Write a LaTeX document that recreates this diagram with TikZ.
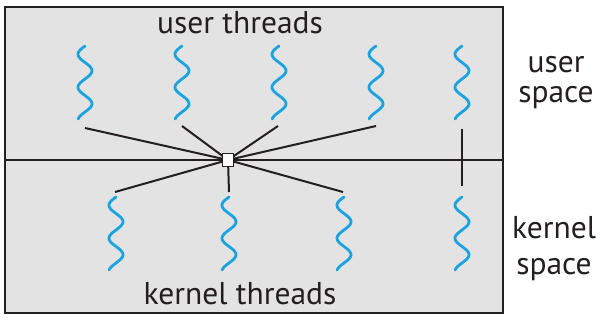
\documentclass[tikz,border=0pt]{standalone}
\usepackage{fontspec}
\setmainfont{PT Sans}
\definecolor{thrblue}{HTML}{1BA3DF}
\definecolor{boxgray}{HTML}{E3E3E3}
\definecolor{edge}{HTML}{231F20}
\tikzset{
  thr/.style={draw=thrblue, line width=2.8pt, line cap=round},
  threadsq/.pic={\draw[thr] plot[domain=0:73,samples=90,smooth] ({-7*sin(\x*10.909)},\x);},
  link/.style={draw=edge, line width=2pt},
  lbl/.style={anchor=base, inner sep=0pt, text=edge, font=\fontsize{31.5}{32}\selectfont}
}
\begin{document}
\begin{tikzpicture}[x=1pt,y=-1pt]
\useasboundingbox (0,0) rectangle (610,320);
\draw[draw=edge, fill=boxgray, line width=2.5pt] (5,7) rectangle (503,313);
\coordinate (ml) at (5,160);
\coordinate (mr) at (503,160);
\draw[link] (ml) -- (mr);
% user threads
\pic at (85,46) {threadsq};
\pic at (182,46) {threadsq};
\pic at (279,46) {threadsq};
\pic at (376,46) {threadsq};
\pic at (462,46) {threadsq};
% kernel threads
\pic at (116,197) {threadsq};
\pic at (229,197) {threadsq};
\pic at (344,197) {threadsq};
\pic at (462,197) {threadsq};
% connector ends
\coordinate (hubc) at (228,160);
\coordinate (u1) at (85,128);
\coordinate (u2) at (182,126);
\coordinate (u3) at (278,126);
\coordinate (u4) at (376,126);
\coordinate (u5) at (462,129);
\coordinate (k1) at (115,192);
\coordinate (k2) at (229,192);
\coordinate (k3) at (343,192);
\coordinate (k5) at (462,186);
\draw[link] (u1) -- (hubc);
\draw[link] (u2) -- (hubc);
\draw[link] (u3) -- (hubc);
\draw[link] (u4) -- (hubc);
\draw[link] (k1) -- (hubc);
\draw[link] (k2) -- (hubc);
\draw[link] (k3) -- (hubc);
\draw[link] (u5) -- (k5);
\node[draw=edge, fill=white, line width=1.8pt, minimum width=11pt, minimum height=13pt, inner sep=0pt] (hub) at (hubc) {};
% labels
\node[lbl] (ut) at (240,34) {user threads};
\node[lbl] (kt) at (240,304) {kernel threads};
\node[lbl] (us1) at (556,73) {user};
\node[lbl] (us2) at (556,103) {space};
\node[lbl] (ks1) at (554,239) {kernel};
\node[lbl] (ks2) at (554,274) {space};
\end{tikzpicture}
\end{document}
